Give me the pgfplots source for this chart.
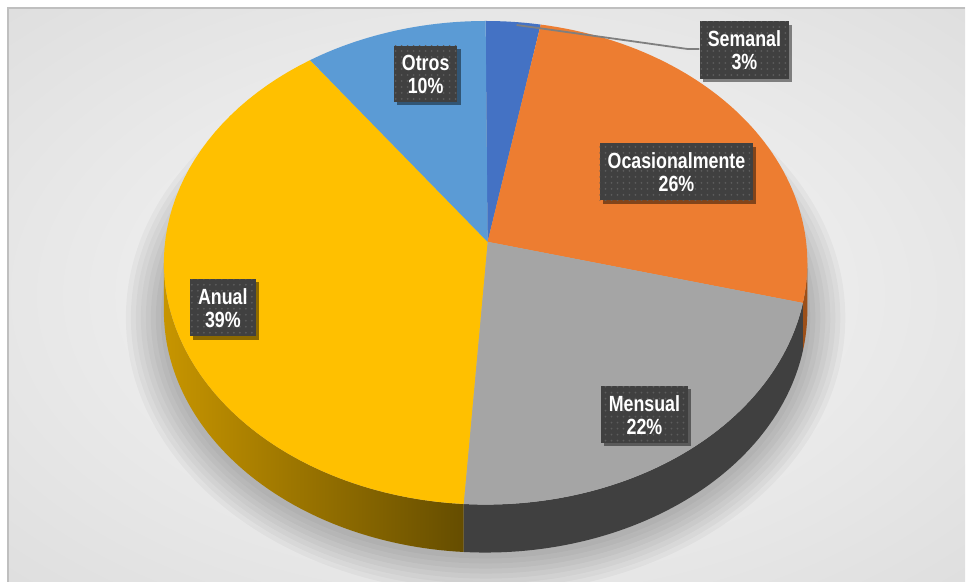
\documentclass[border=0pt]{standalone}
\usepackage{fontspec}
\setmainfont{Liberation Sans}[FakeStretch=0.81]
\usepackage{pgfplots}
\pgfplotsset{compat=1.18}
\usepackage{pgfplotstable}
\usetikzlibrary{patterns,shadows}

\definecolor{cSem}{HTML}{4472C4}
\definecolor{cOca}{HTML}{ED7D31}
\definecolor{cMen}{HTML}{A5A5A5}
\definecolor{cAnu}{HTML}{FFC000}
\definecolor{cOtr}{HTML}{5B9BD5}
\definecolor{sOca}{HTML}{9C4F18}
\definecolor{sMen}{HTML}{404040}
\definecolor{sAnuL}{HTML}{C79500}
\definecolor{sAnuR}{HTML}{654D00}
\definecolor{bgin}{HTML}{EDEDED}
\definecolor{bgout}{HTML}{C4C4C4}
\definecolor{bordergray}{HTML}{BFBFBF}
\definecolor{lblgray}{HTML}{404040}
\definecolor{lbldot}{HTML}{5C5C5C}
\definecolor{linegray}{HTML}{7F7F7F}

\pgfdeclareradialshading{chartbg}{\pgfpoint{0bp}{0bp}}{color(0bp)=(bgin); color(16bp)=(bgin); color(72bp)=(bgout)}

\pgfplotstableread{
label value
Semanal 3
Ocasionalmente 26
Mensual 22
Anual 39
Otros 10
}\piedata

\newcommand\getval[2]{\pgfplotstablegetelem{#1}{value}\of\piedata\edef#2{\pgfplotsretval}}
\getval{0}\vA
\getval{1}\vB
\getval{2}\vC
\getval{3}\vD
\getval{4}\vE
% cumulative angles (clockwise from top)
\pgfmathsetmacro\cB{3.6*\vA}
\pgfmathsetmacro\cC{\cB+3.6*\vB}
\pgfmathsetmacro\cD{\cC+3.6*\vC}
\pgfmathsetmacro\cE{\cD+3.6*\vD}
\pgfmathsetmacro\cF{\cE+3.6*\vE}
% perspective correction to ellipse parameter
\pgfmathsetmacro\pA{0}
\pgfmathsetmacro\pB{\cB-5*sin(\cB)}
\pgfmathsetmacro\pC{\cC-5*sin(\cC)}
\pgfmathsetmacro\pD{\cD-5*sin(\cD)}
\pgfmathsetmacro\pE{\cE-5*sin(\cE)}
\pgfmathsetmacro\pF{\cF-5*sin(\cF)}

\newcommand\sector[3]{%
  \addplot[fill=#3, draw=none, domain=#1:#2, samples=60, variable=\t]
    ({486+322*sin(\t)},{263-242*cos(\t)}) -- (axis cs:488,242) -- cycle;}
\newcommand\sideface[3]{%
  \addplot[#3, draw=none, domain=0:121, samples=122, variable=\t]
    ({486+322*sin((\t<60.5 ? #1+(#2-#1)*\t/60 : #2-(#2-#1)*(\t-61)/60))},
     {263-242*cos((\t<60.5 ? #1+(#2-#1)*\t/60 : #2-(#2-#1)*(\t-61)/60))+(\t<60.5 ? 0 : 48)}) -- cycle;}

\tikzset{lbl/.style={
  drop shadow={shadow xshift=1.6pt, shadow yshift=-1.6pt, opacity=0.45, fill=black},
  preaction={fill=lblgray}, pattern=dots, pattern color=lbldot,
  text=white, align=center, inner xsep=4pt, inner ysep=4.5pt,
  font=\fontsize{11}{11.5}\selectfont\bfseries}}

\begin{document}
\begin{tikzpicture}
\begin{axis}[scale only axis, width=483pt, height=292.5pt,
  xmin=0, xmax=966, ymin=0, ymax=585, y dir=reverse,
  hide axis, clip=false]
\fill[white] (axis cs:0,0) rectangle (axis cs:966,585);
\shade[shading=chartbg] (axis cs:8,8) rectangle (axis cs:966,582);
\draw[bordergray, line width=0.8pt] (axis cs:8,582) -- (axis cs:8,8) -- (axis cs:966,8);
% soft shadow under the pie
\begin{scope}
\clip (axis cs:8,8) rectangle (axis cs:966,582);
\pgfplotsinvokeforeach{1,...,8}{
  \fill[overlay, black, opacity=0.03] (axis cs:486,318) ellipse [x radius={(160+2.5*#1)*1pt}, y radius={(118+2.5*#1)*1pt}];
}
\end{scope}
% side faces
\sideface{90}{\pC}{fill=sOca}
\sideface{\pC}{\pD}{fill=sMen}
\sideface{\pD}{270}{left color=sAnuL, right color=sAnuR}
% top faces
\sector{\pA}{\pB}{cSem}
\sector{\pB}{\pC}{cOca}
\sector{\pC}{\pD}{cMen}
\sector{\pD}{\pE}{cAnu}
\sector{\pE}{\pF}{cOtr}
% leader line
\addplot[linegray, line width=0.9pt, no markers] coordinates {(517,25) (688,49) (700,49)};
% labels
\node[lbl] at (axis cs:745,50) {Semanal\\3\%};
\node[lbl] at (axis cs:677,172) {Ocasionalmente\\26\%};
\node[lbl] at (axis cs:645,415) {Mensual\\22\%};
\node[lbl] at (axis cs:223,308) {Anual\\39\%};
\node[lbl] at (axis cs:426,74) {Otros\\10\%};
\end{axis}
\end{tikzpicture}
\end{document}
